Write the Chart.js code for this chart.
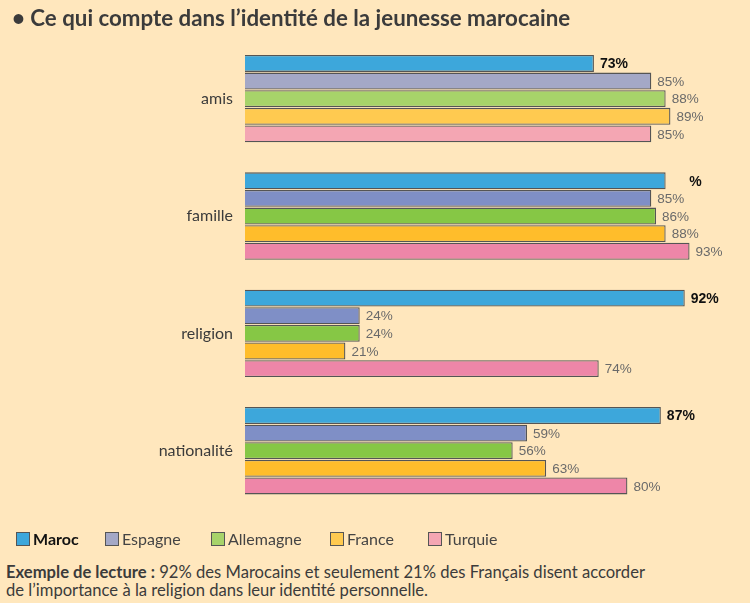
<!DOCTYPE html>
<html><head><meta charset="utf-8">
<script src="https://cdn.jsdelivr.net/npm/chart.js@4"></script>
<style>
html,body{margin:0;padding:0;background:#FFE7BD;}
body{width:750px;height:603px;position:relative;overflow:hidden;font-family:Lato,"Open Sans",sans-serif;color:#3b3b3b;}
#title{position:absolute;left:12px;top:4px;font-weight:bold;font-size:22.3px;white-space:nowrap;}
#c{position:absolute;left:0;top:0;}
.item{position:absolute;top:529px;display:flex;align-items:center;font-size:16px;color:#444;white-space:nowrap;}
.sw{width:14px;height:14px;border:1.5px solid #555;box-sizing:border-box;margin-right:3px;}
#note{position:absolute;left:6px;top:563px;font-size:16.6px;line-height:18px;color:#3b3b3b;white-space:nowrap;}
</style></head>
<body>
<canvas id="c" width="750" height="531" style="width:750px;height:531px"></canvas>
<div id="title">• Ce qui compte dans l’identité de la jeunesse marocaine</div>
<div id="legend"></div>
<div id="note"><b>Exemple de lecture :</b> 92% des Marocains et seulement 21% des Français disent accorder<br>de l’importance à la religion dans leur identité personnelle.</div>
<script>
const categories = ["amis", "famille", "religion", "nationalité"];
const seriesNames = ["Maroc", "Espagne", "Allemagne", "France", "Turquie"];
const maroc     = [73, 88, 92, 87];
const espagne   = [85, 85, 24, 59];
const allemagne = [88, 86, 24, 56];
const france    = [89, 88, 21, 63];
const turquie   = [85, 93, 74, 80];
const labelsMaroc     = ["73%", "%", "92%", "87%"];
const labelsEspagne   = ["85%", "85%", "24%", "59%"];
const labelsAllemagne = ["88%", "86%", "24%", "56%"];
const labelsFrance    = ["89%", "88%", "21%", "63%"];
const labelsTurquie   = ["85%", "93%", "74%", "80%"];

const pastel = ["#3DA7DB", "#A4A8C6", "#A7D36A", "#FFCA50", "#F4A6B3"];
const strong = ["#3DA7DB", "#7F8FC6", "#86C745", "#FFBD2B", "#EE86A8"];

const values = [maroc, espagne, allemagne, france, turquie];
const labels = [labelsMaroc, labelsEspagne, labelsAllemagne, labelsFrance, labelsTurquie];

const datasets = seriesNames.map((name, i) => ({
  label: name,
  data: values[i],
  valueLabels: labels[i],
  backgroundColor: categories.map((c, j) => j === 0 ? pastel[i] : strong[i]),
  borderColor: "#555",
  borderWidth: 1.3,
  categoryPercentage: 0.75,
  barPercentage: 0.96
}));

// legend
const legendLefts = [16, 105, 211, 330, 428];
const legend = document.getElementById("legend");
seriesNames.forEach((n, i) => {
  const d = document.createElement("div");
  d.className = "item";
  d.style.left = legendLefts[i] + "px";
  d.innerHTML = '<span class="sw" style="background:' + pastel[i] + '"></span><span' + (i === 0 ? ' style="font-weight:bold;color:#111"' : '') + '>' + n + '</span>';
  legend.appendChild(d);
});

const valuePlugin = {
  id: "valueLabels",
  afterDatasetsDraw(chart) {
    const ctx = chart.ctx;
    ctx.save();
    ctx.textBaseline = "middle";
    ctx.textAlign = "left";
    chart.data.datasets.forEach((ds, i) => {
      const meta = chart.getDatasetMeta(i);
      meta.data.forEach((bar, j) => {
        const t = ds.valueLabels[j];
        if (i === 0) { ctx.font = "bold 14px 'Liberation Sans', Arial, sans-serif"; ctx.fillStyle = "#111"; }
        else { ctx.font = "13.5px 'Liberation Sans', Arial, sans-serif"; ctx.fillStyle = "#6a6a6a"; }
        let x = bar.x + 6;
        if (t.charAt(0) === "%") x += ctx.measureText(String(ds.data[j])).width + 2;
        ctx.fillText(t, x, bar.y + 1);
      });
    });
    ctx.restore();
  }
};

new Chart(document.getElementById("c"), {
  type: "bar",
  data: { labels: categories, datasets },
  options: {
    indexAxis: "y",
    responsive: false,
    animation: false,
    layout: { padding: { top: 40, bottom: 18, left: 0, right: 27 } },
    plugins: { legend: { display: false }, tooltip: { enabled: false } },
    scales: {
      x: { display: false, min: 0, max: 100, grid: { display: false } },
      y: {
        grid: { display: false, drawTicks: false },
        border: { display: false },
        ticks: { padding: 12, color: "#3b3b3b", font: { family: "Lato", size: 16 } },
        afterFit(scale) { scale.width = 245; }
      }
    }
  },
  plugins: [valuePlugin]
});
</script>
</body></html>
